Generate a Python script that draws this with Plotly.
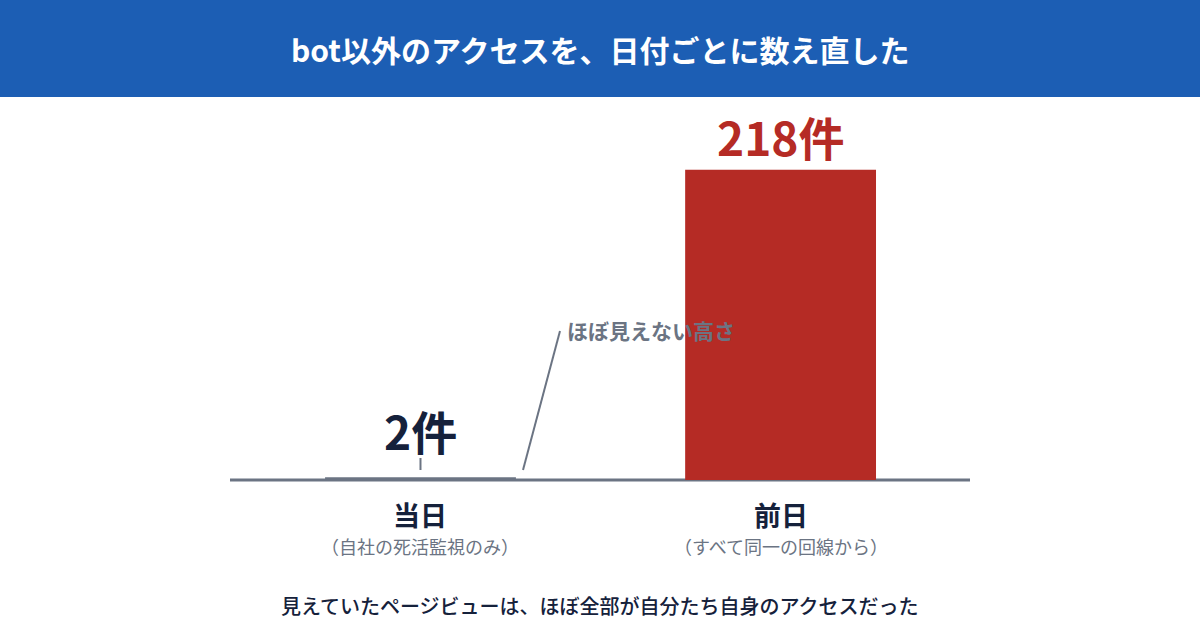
import plotly.graph_objects as go

# ---- data ----
categories = ["当日", "前日"]
sublabels = ["（自社の死活監視のみ）", "（すべて同一の回線から）"]
values = [2, 218]
value_labels = ["2件", "218件"]
title_text = "bot以外のアクセスを、日付ごとに数え直した"
note_text = "ほぼ見えない高さ"
caption_text = "見えていたページビューは、ほぼ全部が自分たち自身のアクセスだった"

# ---- style ----
FONT = "Noto Sans CJK JP"
BLUE = "#1c5eb4"
RED = "#b52b25"
GREY = "#6b7483"
NAVY = "#15213b"
W, H = 1200, 630
L, R, T, B = 230, 230, 120, 150
PW, PH = W - L - R, H - T - B


def px(x):
    return (x - L) / PW


def py(y):
    return (H - B - y) / PH


bar_colors = [GREY, RED]
label_colors = [NAVY, RED]

fig = go.Figure()
fig.add_trace(go.Bar(
    x=categories, y=values, marker_color=bar_colors, marker_line_width=0,
    width=0.53, hoverinfo="skip",
))

shapes = [
    # title banner
    dict(type="rect", xref="paper", yref="paper", x0=px(0), x1=px(W), y0=py(97), y1=py(0),
         fillcolor=BLUE, line_width=0, layer="below"),
    # baseline (drawn beneath the bars, not clipped)
    dict(type="line", xref="paper", yref="paper", x0=0, x1=1, y0=0, y1=0,
         line=dict(color=GREY, width=3), layer="below"),
    # small tick under 2件
    dict(type="line", xref="x", yref="paper", x0=categories[0], x1=categories[0],
         y0=py(470), y1=py(458), line=dict(color=GREY, width=2)),
    # leader line for note
    dict(type="line", xref="paper", yref="paper", x0=px(560), y0=py(331), x1=px(523), y1=py(470),
         line=dict(color=GREY, width=2)),
]

annotations = [
    dict(text=f"<b>{title_text}</b>", xref="paper", yref="paper", x=0.5, y=py(49),
         showarrow=False, font=dict(family=FONT, size=30, color="white"),
         xanchor="center", yanchor="middle"),
    dict(text=f"<b>{note_text}</b>", xref="paper", yref="paper", x=px(565), y=py(330),
         showarrow=False, font=dict(family=FONT, size=21, color=GREY),
         xanchor="left", yanchor="middle"),
    dict(text=caption_text, xref="paper", yref="paper", x=0.5, y=py(605),
         showarrow=False, font=dict(family=FONT, size=20, color=NAVY, weight=500),
         xanchor="center", yanchor="middle"),
]
shifts = [47, 34]
for c, v, lab, col, s in zip(categories, values, value_labels, label_colors, shifts):
    annotations.append(dict(text=f"<b>{lab}</b>", x=c, y=v, xref="x", yref="y",
                            showarrow=False, yshift=s, yanchor="middle",
                            font=dict(family=FONT, size=46, color=col)))
for c, sub in zip(categories, sublabels):
    annotations.append(dict(text=f"<b>{c}</b>", x=c, xref="x", yref="paper", y=py(514),
                            showarrow=False, yanchor="middle",
                            font=dict(family=FONT, size=27, color=NAVY)))
    annotations.append(dict(text=sub, x=c, xref="x", yref="paper", y=py(546),
                            showarrow=False, yanchor="middle",
                            font=dict(family=FONT, size=18, color=GREY)))

fig.update_layout(
    width=W, height=H, margin=dict(l=L, r=R, t=T, b=B),
    paper_bgcolor="white", plot_bgcolor="white",
    showlegend=False, shapes=shapes, annotations=annotations,
    xaxis=dict(range=[-0.529, 1.526], showticklabels=False, showgrid=False,
               zeroline=False, showline=False, fixedrange=True),
    yaxis=dict(range=[0, 253], visible=False, fixedrange=True),
    font=dict(family=FONT),
)

fig.write_html("out.html", config={"displayModeBar": False},
               post_script="document.body.style.margin='0';document.body.style.overflow='hidden';")
